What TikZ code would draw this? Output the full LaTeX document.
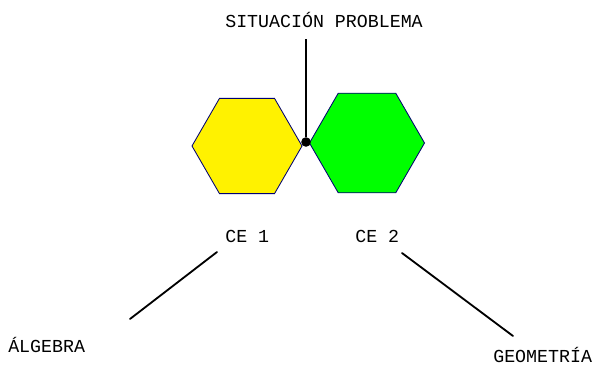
\documentclass[tikz,border=0pt]{standalone}
\usepackage{fontspec}
\setmainfont{Liberation Mono}
\usetikzlibrary{shapes.geometric, positioning, calc}
\tikzset{
  hexa/.style={regular polygon, regular polygon sides=6, draw=blue!45!black,
               line width=0.6pt, inner sep=0pt},
  lbl/.style={inner sep=0pt, anchor=base west, font=\fontsize{13}{15}\selectfont},
  pin/.style={circle, fill=black, inner sep=0pt, minimum size=0.24cm},
  link/.style={line width=1.3pt, line cap=round},
}

\begin{document}
\begin{tikzpicture}[x=0.025cm, y=-0.025cm]
  \useasboundingbox (0,0) rectangle (600,367);
  % the two hexagons
  \node[hexa, fill=yellow, minimum size=2.75cm] (ce1hex) at (247,146) {};
  \node[hexa, fill=green, minimum size=2.875cm] (ce2hex) at (367,143) {};
  \node[pin] (dot) at (306,142) {};
  % labels
  \node[lbl] (prob) at (225,28) {SITUACIÓN PROBLEMA};
  \node[lbl] (ce1) at (225,243) {CE 1};
  \node[lbl] (ce2) at (355,243) {CE 2};
  \node[lbl] (alg) at (8,353) {ÁLGEBRA};
  \node[lbl] (geo) at (493,363) {GEOMETRÍA};
  % free ends of the links
  \coordinate (a1) at (217,252);
  \coordinate (a2) at (130,319);
  \coordinate (g1) at (402,253);
  \coordinate (g2) at (513,336);
  \draw[line width=1.8pt] (dot) -- ($(dot |- prob.south)+(0,11)$);
  \draw[link] (a1) -- (a2);
  \draw[link] (g1) -- (g2);
\end{tikzpicture}
\end{document}
